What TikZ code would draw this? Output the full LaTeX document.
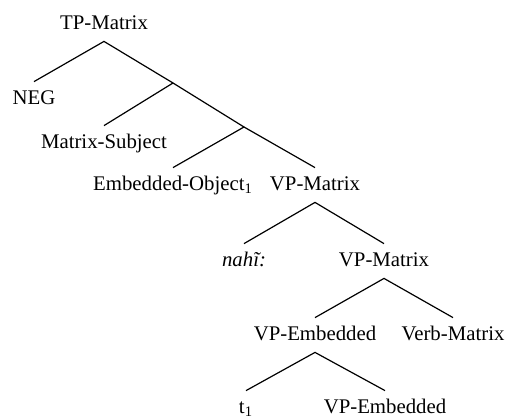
\documentclass[tikz,border=0pt]{standalone}
\usepackage{fontspec}
\setmainfont{Liberation Serif}
\begin{document}
\begin{tikzpicture}[x=0.5pt,y=-0.5pt,
  lbl/.style={anchor=base,inner sep=0pt,text height=11pt,text depth=6pt,font=\fontsize{10.4}{12}\selectfont},
  edge/.style={draw=black,line width=0.6pt}]
\useasboundingbox (0,0) rectangle (507,418);
\node[lbl] (tp) at (104,29) {TP-Matrix};
\coordinate (x1) at (173,83);
\node[lbl] (neg) at (34,104) {NEG};
\node[lbl] (ms) at (104,148) {Matrix-Subject};
\coordinate (x2) at (244,127);
\node[lbl] (eo) at (173,190) {Embedded-Object\textsubscript{1}};
\node[lbl] (vpm1) at (315,190) {VP-Matrix};
\node[lbl] (nahi) at (244,266) {\textit{nahĩ:}};
\node[lbl] (vpm2) at (384,266) {VP-Matrix};
\node[lbl] (vpe1) at (315,340) {VP-Embedded};
\node[lbl] (vbm) at (453,340) {Verb-Matrix};
\node[lbl] (t1) at (246,413) {t\textsubscript{1}};
\node[lbl] (vpe2) at (385,413) {VP-Embedded};
\draw[edge] (neg.north) -- (tp.south) -- (x1);
\draw[edge] (ms.north) -- (x1) -- (x2);
\draw[edge] (eo.north) -- (x2) -- (vpm1.north);
\draw[edge] (nahi.north) -- (vpm1.south) -- (vpm2.north);
\draw[edge] (vpe1.north) -- (vpm2.south) -- (vbm.north);
\draw[edge] (t1.north) -- (vpe1.south) -- (vpe2.north);
\end{tikzpicture}
\end{document}
